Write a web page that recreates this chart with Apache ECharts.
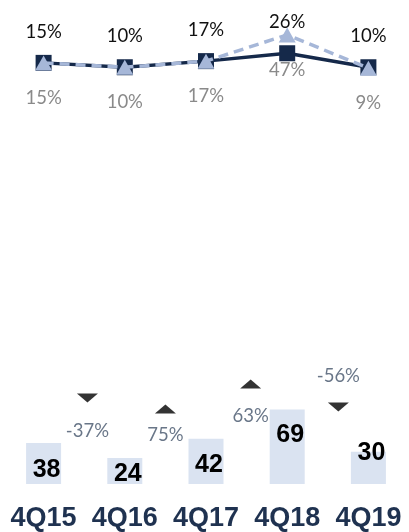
<!DOCTYPE html>
<html>
<head>
<meta charset="utf-8">
<script src="https://cdn.jsdelivr.net/npm/echarts@6/dist/echarts.min.js"></script>
<style>
html,body{margin:0;padding:0;background:#fff;}
#chart{width:409px;height:532px;}
</style>
</head>
<body>
<div id="chart"></div>
<script>
// ---- data ----
const categories = ['4Q15', '4Q16', '4Q17', '4Q18', '4Q19'];
const ratioDark = [15, 10, 17, 26, 10];      // solid navy line (black labels)
const ratioLight = [15, 10, 17, 47, 9];      // dashed light line (gray labels)
const barValues = [38, 24, 42, 69, 30];
const growthLabels = ['-37%', '75%', '63%', '-56%'];
const growthX = [0.54, 1.5, 2.55, 3.63];
const growthMarkerLevel = [79.6, 69.6, 92.7, 71.4];
const growthLabelLevel = [48.8, 45.2, 63.3, 100.4];

// ---- styles ----
const barLabelDy = [7, 3.5, 3.5, -12, -15];
const NAVY = '#15294A';
const LIGHT = '#A6B7D8';

const chart = echarts.init(document.getElementById('chart'), null, {renderer: 'canvas'});

const option = {
  animation: false,
  grid: [
    {left: 3, width: 410, top: 32.25, height: 43.75},
    {left: 3, width: 410, top: 365.3, height: 121.7}
  ],
  xAxis: [
    {type: 'category', gridIndex: 0, data: categories, show: false},
    {type: 'category', gridIndex: 1, data: categories,
     axisLine: {show: false}, axisTick: {show: false},
     axisLabel: {interval: 0, margin: 21, color: '#1F3250', fontSize: 27, fontWeight: 'bold',
                 fontFamily: 'Liberation Sans, Arial, sans-serif'}},
    {type: 'value', gridIndex: 1, min: -0.5, max: 4.5, show: false}
  ],
  yAxis: [
    {type: 'value', gridIndex: 0, min: 0, max: 50, show: false},
    {type: 'value', gridIndex: 1, min: 0, max: 110, show: false}
  ],
  series: [
    {
      type: 'line', xAxisIndex: 0, yAxisIndex: 0, clip: false,
      data: ratioDark,
      symbol: 'rect', symbolSize: 16,
      lineStyle: {color: NAVY, width: 3.5},
      itemStyle: {color: NAVY},
      label: {show: true, position: 'inside', offset: [0, -31], color: '#111',
              fontSize: 18.5, fontFamily: 'Lato, sans-serif',
              formatter: p => p.value + '%'},
      z: 2
    },
    {
      type: 'line', xAxisIndex: 0, yAxisIndex: 0, clip: false,
      data: ratioLight,
      symbol: 'triangle', symbolSize: [17, 15],
      lineStyle: {color: LIGHT, width: 3.5, type: [10, 6]},
      itemStyle: {color: LIGHT},
      label: {show: true, position: 'inside', offset: [0, 35], color: '#8A8A8A',
              fontSize: 18.5, fontFamily: 'Lato, sans-serif',
              formatter: p => p.value + '%'},
      z: 3
    },
    {
      type: 'bar', xAxisIndex: 1, yAxisIndex: 1,
      barWidth: 35,
      data: barValues.map((v, i) => ({
        value: v,
        label: {offset: [3, barLabelDy[i]]}
      })),
      itemStyle: {color: '#DAE3F1'},
      label: {show: true, position: 'inside', color: '#000', fontSize: 25, fontWeight: 'bold',
              fontFamily: 'Liberation Sans, Arial, sans-serif'}
    },
    {
      type: 'scatter', xAxisIndex: 2, yAxisIndex: 1,
      data: growthX.map((x, i) => ({
        value: [x, growthMarkerLevel[i]],
        symbolRotate: growthLabels[i].startsWith('-') ? 180 : 0
      })),
      symbol: 'triangle', symbolSize: [21, 9],
      itemStyle: {color: '#000'},
      z: 5
    },
    {
      type: 'scatter', xAxisIndex: 2, yAxisIndex: 1,
      data: growthX.map((x, i) => ({value: [x, growthLabelLevel[i]], name: growthLabels[i]})),
      symbolSize: 1,
      itemStyle: {color: 'rgba(0,0,0,0)'},
      label: {show: true, position: 'inside', color: '#44546A', fontSize: 18.5,
              fontFamily: 'Lato, sans-serif', formatter: p => p.name},
      z: 5
    }
  ]
};
chart.setOption(option);
</script>
</body>
</html>
